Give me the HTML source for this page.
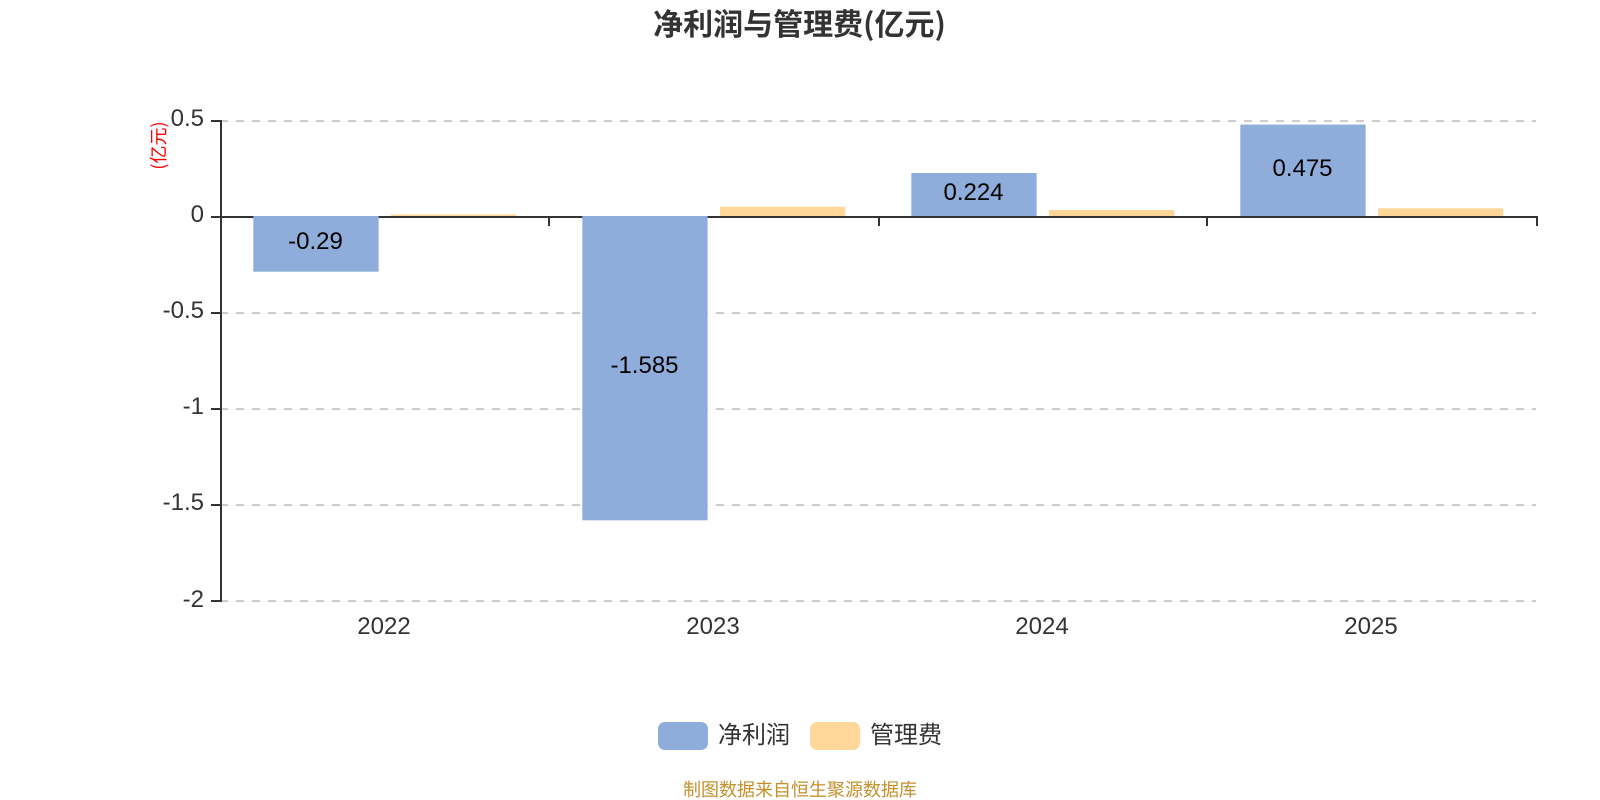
<!DOCTYPE html>
<html lang="zh">
<head>
<meta charset="utf-8">
<style>
html,body{margin:0;padding:0;background:#fff;width:1600px;height:800px;overflow:hidden}
svg{display:block}
text{font-family:"Liberation Sans","Noto Sans CJK SC",sans-serif}
.c{font-family:"Noto Sans CJK SC","Liberation Sans",sans-serif}
</style>
</head>
<body>
<svg width="1600" height="800" viewBox="0 0 1600 800" xmlns="http://www.w3.org/2000/svg">
<rect width="1600" height="800" fill="#fff"/>
<text class="c" x="799.5" y="35" text-anchor="middle" font-size="30" font-weight="700" fill="#333">净利润与管理费(亿元)</text>
<g stroke="#ccc" stroke-width="2" stroke-dasharray="8 8" fill="none">
<path d="M220 121H1536"/><path d="M220 313H1536"/><path d="M220 409H1536"/><path d="M220 505H1536"/><path d="M220 601H1536"/>
</g>
<g stroke="#333" stroke-width="2" fill="none">
<path d="M221 120V602"/>
<path d="M211 121H221M211 217H221M211 313H221M211 409H221M211 505H221M211 601H221"/>
<path d="M211 217H1538"/>
<path d="M549 217V226M879 217V226M1207 217V226M1537 217V226"/>
</g>
<g fill="#8eadda">
<rect x="253.3" y="216" width="125.3" height="55.7"/>
<rect x="582.3" y="216" width="125.3" height="304.3"/>
<rect x="911.3" y="173" width="125.3" height="43"/>
<rect x="1240.3" y="124.6" width="125.3" height="91.4"/>
</g>
<g fill="#ffd899">
<rect x="391" y="214.4" width="125.3" height="1.6"/>
<rect x="720" y="206.7" width="125.3" height="9.3"/>
<rect x="1049" y="210" width="125.3" height="6"/>
<rect x="1378" y="208.3" width="125.3" height="7.7"/>
</g>
<g font-size="24" fill="#000" text-anchor="middle">
<text x="315.5" y="249">-0.29</text>
<text x="644.5" y="373">-1.585</text>
<text x="973.5" y="200">0.224</text>
<text x="1302.5" y="176">0.475</text>
</g>
<g font-size="24" fill="#333" text-anchor="end">
<text x="204" y="126">0.5</text>
<text x="204" y="222">0</text>
<text x="204" y="318">-0.5</text>
<text x="204" y="414">-1</text>
<text x="204" y="510">-1.5</text>
<text x="204" y="607">-2</text>
</g>
<g font-size="24" fill="#333" text-anchor="middle">
<text x="384" y="634">2022</text>
<text x="713" y="634">2023</text>
<text x="1042" y="634">2024</text>
<text x="1371" y="634">2025</text>
</g>
<text class="c" transform="translate(165 145.5) rotate(-90)" text-anchor="middle" font-size="18" fill="#f00">(亿元)</text>
<rect x="658" y="722" width="50" height="28" rx="7" fill="#8eadda"/>
<rect x="810" y="722" width="50" height="28" rx="7" fill="#ffd899"/>
<text class="c" x="718" y="743" font-size="24" fill="#333">净利润</text>
<text class="c" x="870" y="743" font-size="24" fill="#333">管理费</text>
<text class="c" x="800" y="796" text-anchor="middle" font-size="18" fill="#c4902c">制图数据来自恒生聚源数据库</text>
</svg>
</body>
</html>
